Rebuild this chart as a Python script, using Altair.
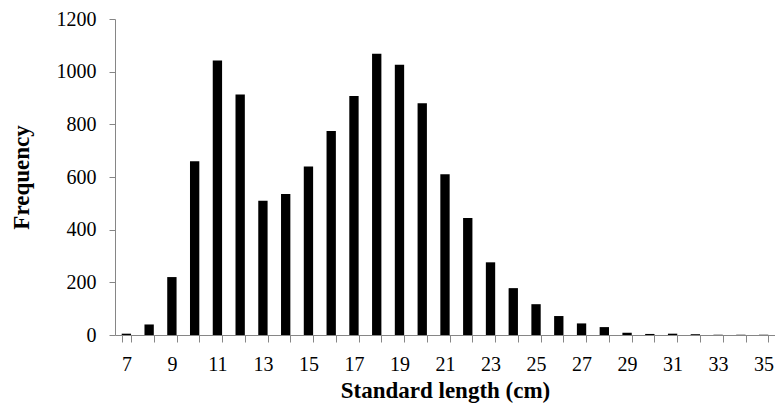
import altair as alt
import pandas as pd

lengths = list(range(7, 36))
frequency = [5, 40, 220, 660, 1042, 913, 510, 535, 640, 775, 908, 1068, 1026, 880,
             610, 444, 276, 178, 117, 72, 44, 30, 9, 4, 5, 3, 1, 1, 1]
y_ticks = [0, 200, 400, 600, 800, 1000, 1200]

df = pd.DataFrame({"length": lengths, "freq": frequency})

FONT = "Liberation Serif"
AXIS_GRAY = "#868686"

chart = alt.Chart(df).mark_bar(color="black").encode(
    x=alt.X(
        "length:O",
        scale=alt.Scale(paddingInner=0.59, paddingOuter=0.295),
        axis=alt.Axis(
            title="Standard length (cm)",
            labelAngle=0,
            tickBand="extent",
            labelExpr="datum.value % 2 == 1 ? datum.label : ''",
            labelFont=FONT, labelFontSize=20, labelColor="black",
            labelBaseline="alphabetic", labelPadding=28,
            tickSize=7, tickColor=AXIS_GRAY, domainColor=AXIS_GRAY,
            titleFont=FONT, titleFontSize=23, titleFontWeight="bold", titleColor="black",
            titleBaseline="alphabetic", titleY=62,
        ),
    ),
    y=alt.Y(
        "freq:Q",
        scale=alt.Scale(domain=[0, 1200]),
        axis=alt.Axis(
            title="Frequency",
            values=y_ticks,
            format="d",
            grid=False,
            labelFont=FONT, labelFontSize=20, labelColor="black", labelPadding=13,
            tickSize=6, tickColor=AXIS_GRAY, domainColor=AXIS_GRAY,
            titleFont=FONT, titleFontSize=23, titleFontWeight="bold", titleColor="black",
            titleBaseline="alphabetic", titleX=-87, titleY=158, titleAngle=-90,
        ),
    ),
).properties(
    width=660,
    height=316,
    autosize=alt.AutoSizeParams(type="none"),
    padding={"left": 107, "top": 11, "right": 0, "bottom": 68},
).configure_view(stroke=None)

chart.save("out.html", embed_options={"renderer": "svg", "actions": False})
